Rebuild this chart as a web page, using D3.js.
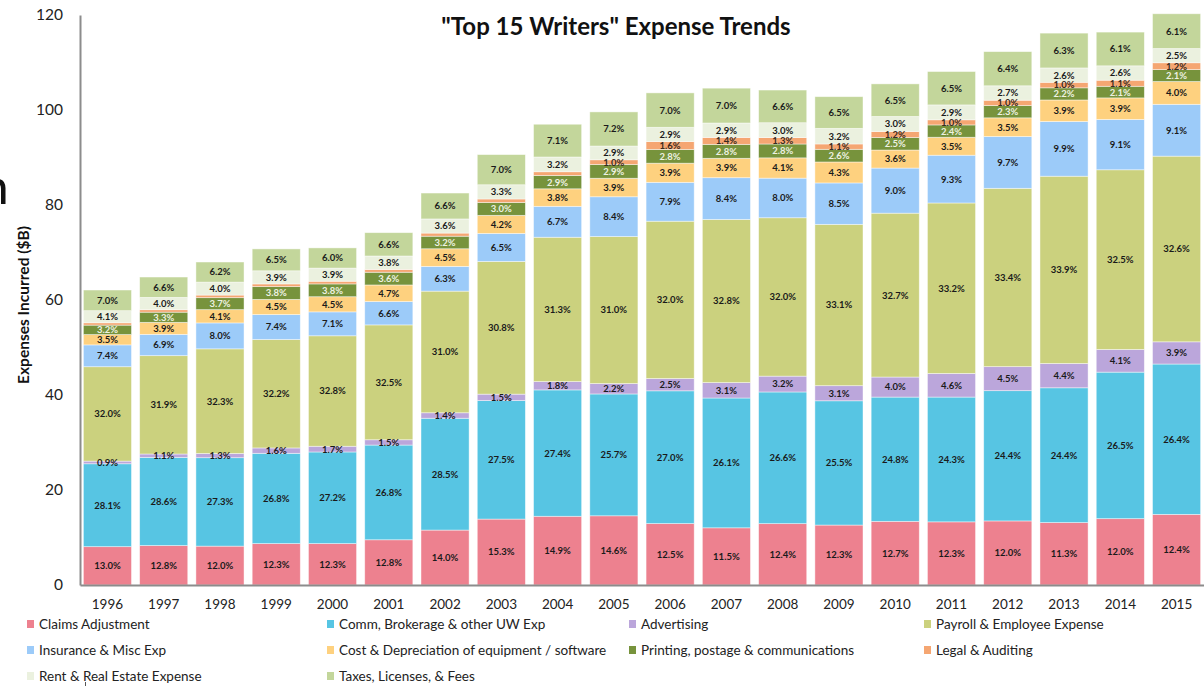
<!DOCTYPE html>
<html>
<head>
<meta charset="utf-8">
<script src="https://cdn.jsdelivr.net/npm/d3@7/dist/d3.min.js"></script>
<style>
  html, body { margin: 0; padding: 0; background: #fff; }
  svg { display: block; }
</style>
</head>
<body>
<svg id="chart" width="1204" height="686"></svg>
<script>
// Years on the x axis
const years = ["1996","1997","1998","1999","2000","2001","2002","2003","2004","2005",
               "2006","2007","2008","2009","2010","2011","2012","2013","2014","2015"];

// Total expenses incurred per year ($B)
const totals = [62.1, 64.9, 68.2, 70.9, 70.9, 74.4, 82.6, 90.7, 97.1, 99.8,
                103.5, 104.7, 104.2, 102.6, 105.5, 108.1, 112.4, 116.3, 116.4, 119.9];

// Share of total (%) for each expense category, bottom to top of the stack
const claimsAdjustment = [13.0, 12.8, 12.0, 12.3, 12.3, 12.8, 14.0, 15.3, 14.9, 14.6,
                          12.5, 11.5, 12.4, 12.3, 12.7, 12.3, 12.0, 11.3, 12.0, 12.4];
const commBrokerage    = [28.1, 28.6, 27.3, 26.8, 27.2, 26.8, 28.5, 27.5, 27.4, 25.7,
                          27.0, 26.1, 26.6, 25.5, 24.8, 24.3, 24.4, 24.4, 26.5, 26.4];
const advertising      = [0.9, 1.1, 1.3, 1.6, 1.7, 1.5, 1.4, 1.5, 1.8, 2.2,
                          2.5, 3.1, 3.2, 3.1, 4.0, 4.6, 4.5, 4.4, 4.1, 3.9];
const payroll          = [32.0, 31.9, 32.3, 32.2, 32.8, 32.5, 31.0, 30.8, 31.3, 31.0,
                          32.0, 32.8, 32.0, 33.1, 32.7, 33.2, 33.4, 33.9, 32.5, 32.6];
const insuranceMisc    = [7.4, 6.9, 8.0, 7.4, 7.1, 6.6, 6.3, 6.5, 6.7, 8.4,
                          7.9, 8.4, 8.0, 8.5, 9.0, 9.3, 9.7, 9.9, 9.1, 9.1];
const costDepreciation = [3.5, 3.9, 4.1, 4.5, 4.5, 4.7, 4.5, 4.2, 3.8, 3.9,
                          3.9, 3.9, 4.1, 4.3, 3.6, 3.5, 3.5, 3.9, 3.9, 4.0];
const printing         = [3.2, 3.3, 3.7, 3.8, 3.8, 3.6, 3.2, 3.0, 2.9, 2.9,
                          2.8, 2.8, 2.8, 2.6, 2.5, 2.4, 2.3, 2.2, 2.1, 2.1];
const legalAuditing    = [0.8, 0.8, 0.8, 0.8, 0.8, 0.8, 0.8, 0.8, 0.8, 1.0,
                          1.6, 1.4, 1.3, 1.1, 1.2, 1.0, 1.0, 1.0, 1.1, 1.2];
const rentRealEstate   = [4.1, 4.0, 4.0, 3.9, 3.9, 3.8, 3.6, 3.3, 3.2, 2.9,
                          2.9, 2.9, 3.0, 3.2, 3.0, 2.9, 2.7, 2.6, 2.6, 2.5];
const taxesFees        = [7.0, 6.6, 6.2, 6.5, 6.0, 6.6, 6.6, 7.0, 7.1, 7.2,
                          7.0, 7.0, 6.6, 6.5, 6.5, 6.5, 6.4, 6.3, 6.1, 6.1];

const seriesNames = [
  "Claims Adjustment", "Comm, Brokerage & other UW Exp", "Advertising", "Payroll & Employee Expense",
  "Insurance & Misc Exp", "Cost & Depreciation of equipment / software", "Printing, postage & communications", "Legal & Auditing",
  "Rent & Real Estate Expense", "Taxes, Licenses, & Fees"
];
const seriesShares = [claimsAdjustment, commBrokerage, advertising, payroll, insuranceMisc,
                      costDepreciation, printing, legalAuditing, rentRealEstate, taxesFees];
const seriesColors = ["#ed818f", "#57c5e3", "#bba6db", "#cbd17e", "#9ccbf9",
                      "#fed17f", "#77933c", "#f5a672", "#ebf1df", "#c3d69b"];
const labelColors  = ["#1a1a1a", "#1a1a1a", "#1a1a1a", "#1a1a1a", "#1a1a1a",
                      "#1a1a1a", "#eef2e2", "#3a2a20", "#1a1a1a", "#1a1a1a"];

const yTicks = [0, 20, 40, 60, 80, 100, 120];

// Rows of the stacked table, values in $B derived from total × share
const rows = years.map((yr, i) => {
  const row = { year: yr };
  seriesNames.forEach((name, s) => { row[name] = totals[i] * seriesShares[s][i] / 100; });
  return row;
});
const stacked = d3.stack().keys(seriesNames)(rows);

const svg = d3.select("#chart");
const fontMain = "Lato, 'Open Sans', 'DejaVu Sans', sans-serif";

const x = d3.scaleBand().domain(years).range([80, 1204]).paddingInner(0.145).paddingOuter(0.06);
const y = d3.scaleLinear().domain([0, 120]).range([585, 15]);

// Stacked bars
const layers = svg.append("g").selectAll("g")
  .data(stacked)
  .join("g")
  .attr("fill", (d, i) => seriesColors[i]);

layers.selectAll("rect")
  .data(d => d)
  .join("rect")
  .attr("x", d => x(d.data.year))
  .attr("y", d => y(d[1]))
  .attr("width", x.bandwidth())
  .attr("height", d => y(d[0]) - y(d[1]))
  .attr("stroke", "#ffffff")
  .attr("stroke-opacity", 0.55)
  .attr("stroke-width", 0.8);

// Percentage labels on each segment
stacked.forEach((layer, s) => {
  svg.append("g")
    .selectAll("text")
    .data(layer.map((d, i) => ({ d, pct: seriesShares[s][i] })).filter(o => o.pct >= 0.9))
    .join("text")
    .attr("x", o => x(o.d.data.year) + x.bandwidth() / 2)
    .attr("y", o => (y(o.d[0]) + y(o.d[1])) / 2)
    .attr("dy", "0.36em")
    .attr("text-anchor", "middle")
    .attr("font-family", fontMain)
    .attr("font-weight", "bold")
    .attr("font-size", "9.5px")
    .attr("fill", labelColors[s])
    .text(o => o.pct.toFixed(1) + "%");
});

// Y axis
const yAxis = svg.append("g")
  .attr("transform", "translate(80,0)")
  .call(d3.axisLeft(y).tickValues(yTicks).tickSize(0).tickPadding(17));
yAxis.select(".domain").attr("stroke", "#8c8c8c").attr("stroke-width", 2);
yAxis.selectAll("text")
  .attr("font-family", fontMain)
  .attr("font-size", "15.5px")
  .attr("fill", "#222");

// X axis
const xAxis = svg.append("g")
  .attr("transform", "translate(0,585)")
  .call(d3.axisBottom(x).tickSize(0).tickPadding(14));
xAxis.select(".domain").attr("stroke", "#8c8c8c").attr("stroke-width", 2);
xAxis.selectAll("text")
  .attr("font-family", fontMain)
  .attr("font-size", "13.5px")
  .attr("fill", "#222");

// Title
svg.append("text")
  .attr("x", 616)
  .attr("y", 35)
  .attr("text-anchor", "middle")
  .attr("font-family", fontMain)
  .attr("font-weight", "bold")
  .attr("font-size", "24px")
  .attr("fill", "#111")
  .text("\"Top 15 Writers\" Expense Trends");

// Y axis title
svg.append("text")
  .attr("transform", "translate(29,305) rotate(-90)")
  .attr("text-anchor", "middle")
  .attr("font-family", fontMain)
  .attr("font-weight", "bold")
  .attr("font-size", "15.5px")
  .attr("fill", "#111")
  .text("Expenses Incurred ($B)");

// Dark stroke fragment at the left edge
svg.append("path")
  .attr("d", "M-4,179 Q5,178 5.5,188 L5.5,204 L1,204 L1,189 Q1,183 -4,183 Z")
  .attr("fill", "#111");

// Legend
const legendCols = [27, 327, 629, 924];
const legendRows = [624, 650, 676];
const legend = svg.append("g")
  .selectAll("g")
  .data(seriesNames)
  .join("g")
  .attr("transform", (d, i) => `translate(${legendCols[i % 4]},${legendRows[Math.floor(i / 4)]})`);
legend.append("rect")
  .attr("x", 0).attr("y", -4)
  .attr("width", 7).attr("height", 8)
  .attr("fill", (d, i) => seriesColors[i]);
legend.append("text")
  .attr("x", 12)
  .attr("y", 0)
  .attr("dy", "0.36em")
  .attr("font-family", fontMain)
  .attr("font-size", "13.5px")
  .attr("fill", "#222")
  .text(d => d);

// Small tick mark below the third legend row
svg.append("line")
  .attr("x1", 85.5).attr("x2", 85.5)
  .attr("y1", 682).attr("y2", 686)
  .attr("stroke", "#555").attr("stroke-width", 1);
</script>
</body>
</html>
